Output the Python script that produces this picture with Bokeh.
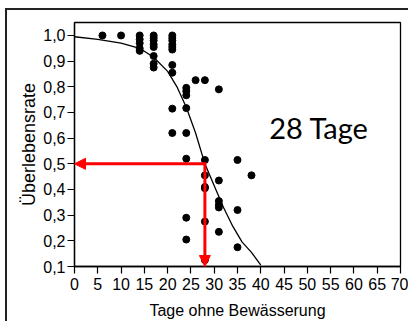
from bokeh.plotting import figure
from bokeh.models import FixedTicker, Arrow, NormalHead
from bokeh.core.properties import value
from bokeh.embed import file_html
from bokeh.resources import INLINE

# Observed survival points (days without watering, survival rate)
pts_x = [6, 10,
         14, 14, 14, 14, 14,
         17, 17, 17, 17, 17, 17, 17, 17,
         21, 21, 21, 21, 21, 21, 21, 21, 21, 21,
         24, 24, 24, 24, 24, 24, 24, 24,
         26,
         28, 28, 28, 28, 28, 28, 28,
         31, 31, 31, 31, 31, 31,
         35, 35, 35,
         38]
pts_y = [1.0, 1.0,
         1.0, 0.985, 0.97, 0.95, 0.94,
         1.0, 0.99, 0.98, 0.965, 0.955, 0.92, 0.89, 0.875,
         1.0, 0.99, 0.98, 0.965, 0.955, 0.945, 0.885, 0.855, 0.715, 0.62,
         0.796, 0.783, 0.767, 0.717, 0.62, 0.52, 0.29, 0.205,
         0.826,
         0.826, 0.515, 0.455, 0.41, 0.405, 0.275, 0.125,
         0.79, 0.435, 0.355, 0.34, 0.33, 0.235,
         0.515, 0.32, 0.175,
         0.455]

# Fitted curve
curve_x = [0, 5, 10, 14, 17, 20, 22, 24, 26, 28, 30, 32, 34, 36, 38, 40]
curve_y = [0.995, 0.985, 0.97, 0.95, 0.915, 0.86, 0.80, 0.72, 0.62, 0.50,
           0.415, 0.33, 0.256, 0.195, 0.155, 0.105]

# Threshold (50 % survival)
thr_x = 28
thr_y = 0.5
annot_text = "28 Tage"

x_ticks = list(range(0, 71, 5))
y_ticks = [0.1, 0.2, 0.3, 0.4, 0.5, 0.6, 0.7, 0.8, 0.9, 1.0]
y_labels = {t: f"{t:.1f}".replace(".", ",") for t in y_ticks}

p = figure(output_backend="svg", toolbar_location=None,
           frame_width=326, frame_height=244,
           x_range=(0, 70), y_range=(0.1, 1.0505),
           min_border_left=67, min_border_top=12, min_border_right=8,
           min_border_bottom=52)
p.styles = {"margin-left": "5px", "margin-top": "8px",
            "border-left": "2px solid #222", "border-top": "2px solid #222"}

p.grid.visible = False
p.outline_line_color = "black"
p.outline_line_width = 1.3
p.background_fill_color = "white"
p.border_fill_color = "white"

font = "Liberation Sans"
for ax in (p.xaxis[0], p.yaxis[0]):
    ax.major_label_text_font = font
    ax.major_label_text_font_size = "16px"
    ax.major_label_text_color = "black"
    ax.axis_label_text_font = font
    ax.axis_label_text_font_style = "normal"
    ax.axis_label_text_color = "black"
    ax.axis_line_color = "black"
    ax.axis_line_width = 1.3
    ax.major_tick_line_color = "black"
    ax.major_tick_line_width = 1.2
    ax.major_tick_in = 0
    ax.major_tick_out = 7
    ax.minor_tick_line_color = None

p.xaxis.axis_label_text_font_size = "16px"
p.yaxis.axis_label_text_font_size = "18px"
p.xaxis.ticker = FixedTicker(ticks=x_ticks)
p.yaxis.ticker = FixedTicker(ticks=y_ticks)
p.yaxis.major_label_overrides = y_labels
p.xaxis.axis_label = "Tage ohne Bewässerung"
p.yaxis.axis_label = "Überlebensrate"
p.xaxis.major_label_standoff = 4
p.yaxis.major_label_standoff = 2
p.xaxis.axis_label_standoff = 9
p.yaxis.axis_label_standoff = 1

p.line(curve_x, curve_y, line_color="black", line_width=1.3)
p.scatter(pts_x, pts_y, size=7, fill_color="black", line_color="black")

red = "#ff0000"
p.add_layout(Arrow(end=NormalHead(size=11, fill_color=red, line_color=red),
                   x_start=thr_x, y_start=thr_y, x_end=0, y_end=thr_y,
                   line_color=red, line_width=3))
p.add_layout(Arrow(end=NormalHead(size=11, fill_color=red, line_color=red),
                   x_start=thr_x, y_start=thr_y + 0.006, x_end=thr_x, y_end=0.1,
                   line_color=red, line_width=3))

p.text(x=[52.5], y=[0.64], text=[annot_text], text_font=value("Lato"),
       text_font_size="29px", text_align="center", text_baseline="middle",
       text_color="black")

open("out.html", "w").write(file_html(p, INLINE))
